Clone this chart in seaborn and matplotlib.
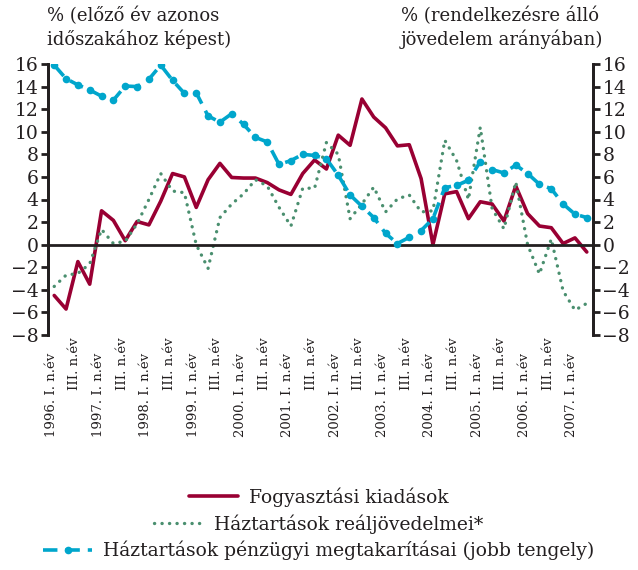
import numpy as np
import pandas as pd
import seaborn as sns
import matplotlib.pyplot as plt
import matplotlib.transforms as mtransforms

# negyedévek: 1996. I. n.év - 2007. II. n.év
evek = list(range(1996, 2008))
negyedev_nevek = ['I.', 'II.', 'III.', 'IV.']
negyedevek = [(ev, q) for ev in evek for q in negyedev_nevek][:46]

fogyasztas = [-4.5, -5.7, -1.5, -3.5, 3.0, 2.15, 0.35, 2.05, 1.75, 3.85,
              6.3, 6.0, 3.3, 5.75, 7.2, 5.95, 5.9, 5.9, 5.5, 4.85,
              4.45, 6.3, 7.5, 6.7, 9.7, 8.8, 12.9, 11.3, 10.35, 8.75,
              8.85, 5.85, 0.0, 4.5, 4.7, 2.3, 3.8, 3.6, 2.1, 5.2,
              2.75, 1.65, 1.5, 0.1, 0.6, -0.65]

realjovedelem = [-3.7, -2.7, -2.55, -1.7, 1.35, 0.1, 0.3, 1.85, 4.0, 6.3,
                 4.75, 4.6, 0.0, -2.1, 2.4, 3.6, 4.5, 5.75, 5.2, 3.3,
                 1.65, 5.0, 5.0, 9.05, 8.0, 2.3, 3.6, 5.1, 2.9, 4.05,
                 4.4, 2.9, 3.0, 9.25, 7.45, 4.0, 10.4, 3.2, 1.4, 5.55,
                 0.0, -2.6, 0.5, -4.1, -5.8, -5.2]

megtakaritas = [15.9, 14.7, 14.15, 13.7, 13.15, 12.8, 14.05, 14.0, 14.65, 15.9,
                14.55, 13.4, 13.45, 11.4, 10.85, 11.6, 10.65, 9.5, 9.1, 7.1,
                7.45, 8.0, 7.9, 7.6, 6.15, 4.4, 3.4, 2.4, 1.0, 0.1,
                0.65, 1.25, 2.3, 5.05, 5.25, 5.7, 7.35, 6.65, 6.35, 7.05,
                6.3, 5.35, 4.95, 3.6, 2.7, 2.4]

nevek = ['Fogyasztási kiadások',
         'Háztartások reáljövedelmei*',
         'Háztartások pénzügyi megtakarításai (jobb tengely)']

df = pd.DataFrame({'idx': np.arange(len(negyedevek)),
                   'fogy': fogyasztas, 'real': realjovedelem, 'megt': megtakaritas})

sns.set_style('white')
plt.rcParams['font.family'] = ['DejaVu Serif']
plt.rcParams['axes.unicode_minus'] = True
fekete = '#231f20'

fig = plt.figure(figsize=(6.38, 5.70), dpi=100)
ax = fig.add_axes([0.0757, 0.4123, 0.8533, 0.4754])
ax2 = ax.twinx()

sns.lineplot(data=df, x='idx', y='fogy', ax=ax, color='#990033', linewidth=2.6,
             label=nevek[0], legend=False)
sns.lineplot(data=df, x='idx', y='real', ax=ax, color='#4a8f6f', linewidth=2.4,
             linestyle=(0, (0.05, 2.2)), dash_capstyle='round',
             label=nevek[1], legend=False)
sns.lineplot(data=df, x='idx', y='megt', ax=ax2, color='#00a6cc', linewidth=2.6,
             linestyle=(0, (4, 2.2)), marker='o', markersize=5.5,
             markeredgewidth=0, label=nevek[2], legend=False)

for a in (ax, ax2):
    a.set_xlim(-0.5, len(negyedevek) - 0.5)
    a.set_ylim(-8, 16)
    a.set_yticks(range(-8, 17, 2))
    a.set_xlabel('')
    a.set_ylabel('')
    for s in a.spines.values():
        s.set_color(fekete)
        s.set_linewidth(2)
    a.spines['top'].set_visible(False)

ax.spines['bottom'].set_position(('data', 0))
ax2.spines['bottom'].set_visible(False)
ax.set_xticks([])
ax.set_xticks(np.arange(0.5, len(negyedevek) - 1, 1), minor=True)
ax.tick_params(axis='x', which='minor', direction='out', length=5, width=2, color=fekete)
ax.tick_params(axis='y', direction='out', length=5, width=2, color=fekete,
               labelsize=13.5, labelcolor=fekete, pad=2)
ax2.tick_params(axis='y', direction='out', length=5, width=2, color=fekete,
                labelsize=13.5, labelcolor=fekete, pad=2)

# kategóriafeliratok a tengely alján
trans = mtransforms.blended_transform_factory(ax.transData, ax.transAxes)
for i in range(0, len(negyedevek), 2):
    ev, q = negyedevek[i]
    if q == 'I.':
        szoveg, eltolas = f'{ev}. I. n.év', -18
    else:
        szoveg, eltolas = 'III. n.év', -2
    off = mtransforms.ScaledTranslation(-3 / 100, eltolas / 100, fig.dpi_scale_trans)
    ax.text(i, 0, szoveg, transform=trans + off, rotation=90, ha='center', va='top',
            fontsize=9.5, color=fekete)

fig.text(47 / 638, 0.988, '% (előző év azonos\nidőszakához képest)', ha='left', va='top',
         fontsize=13, color=fekete, linespacing=1.3)
fig.text(401 / 638, 0.988, '% (rendelkezésre álló\njövedelem arányában)', ha='left', va='top',
         fontsize=13, color=fekete, linespacing=1.3)

vonalak = ax.get_lines()[:2] + ax2.get_lines()[:1]
for vonal, nev, y in zip(vonalak, nevek, [0.128, 0.081, 0.034]):
    fig.legend([vonal], [nev], loc='center', bbox_to_anchor=(0.5, y), frameon=False,
               fontsize=13.5, handlelength=2.6, handletextpad=0.6, labelcolor=fekete,
               borderpad=0, borderaxespad=0)

fig.savefig('out.png', dpi=100)
